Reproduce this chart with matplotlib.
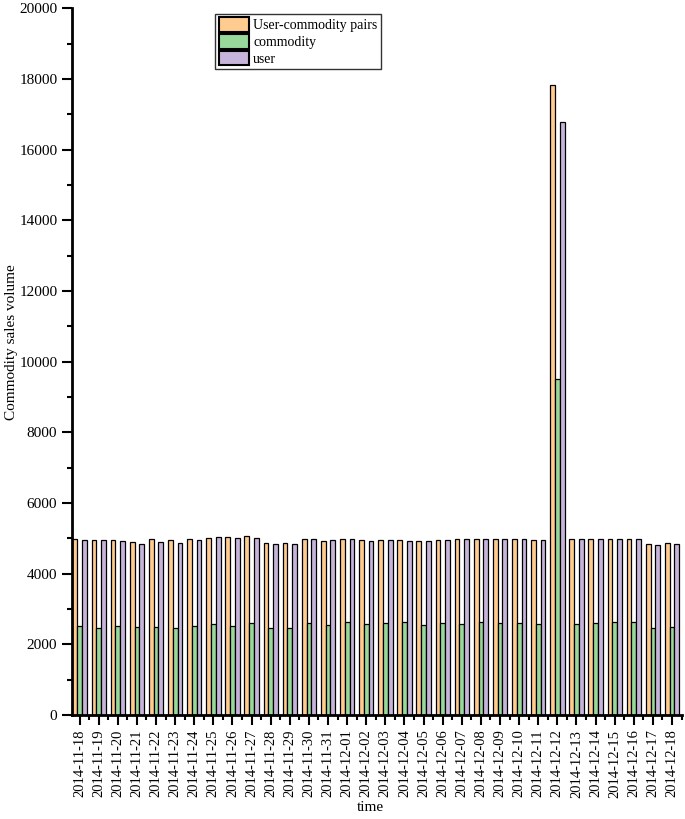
import numpy as np
import matplotlib
matplotlib.use("Agg")
import matplotlib.pyplot as plt
from matplotlib.ticker import MultipleLocator

plt.rcParams['font.family'] = ['Liberation Serif', 'DejaVu Serif']

dates = ["2014-11-18", "2014-11-19", "2014-11-20", "2014-11-21", "2014-11-22",
         "2014-11-23", "2014-11-24", "2014-11-25", "2014-11-26", "2014-11-27",
         "2014-11-28", "2014-11-29", "2014-11-30", "2014-11-31", "2014-12-01",
         "2014-12-02", "2014-12-03", "2014-12-04", "2014-12-05", "2014-12-06",
         "2014-12-07", "2014-12-08", "2014-12-09", "2014-12-10", "2014-12-11",
         "2014-12-12", "2014-12-13", "2014-12-14", "2014-12-15", "2014-12-16",
         "2014-12-17", "2014-12-18"]

pairs = [4980, 4950, 4940, 4900, 4970, 4950, 4980, 5010, 5030, 5060,
         4880, 4880, 4980, 4920, 4980, 4960, 4960, 4950, 4920, 4950,
         4990, 4990, 4970, 4970, 4950, 17830, 4990, 4990, 4990, 4990,
         4830, 4860]

commodity = [2520, 2450, 2520, 2490, 2490, 2470, 2520, 2570, 2520, 2590,
             2450, 2470, 2600, 2550, 2620, 2580, 2600, 2630, 2550, 2600,
             2570, 2630, 2600, 2590, 2570, 9500, 2580, 2600, 2630, 2620,
             2450, 2490]

user = [4950, 4940, 4920, 4840, 4900, 4870, 4950, 5030, 5010, 5000,
        4840, 4840, 4970, 4940, 4970, 4910, 4960, 4920, 4920, 4960,
        4990, 4970, 4970, 4970, 4950, 16770, 4990, 4990, 4990, 4970,
        4800, 4840]

c_pairs = "#FFCB8E"
c_comm = "#98D89A"
c_user = "#C6B4DA"

fig = plt.figure(figsize=(6.85, 8.19), dpi=100)
ax = fig.add_axes([0.105, 0.127, 0.89, 0.863])

x = np.arange(len(dates))
w = 0.25
ax.bar(x - w, pairs, w, color=c_pairs, edgecolor="black", linewidth=0.9, label="User-commodity pairs")
ax.bar(x, commodity, w, color=c_comm, edgecolor="black", linewidth=0.9, label="commodity")
ax.bar(x + w, user, w, color=c_user, edgecolor="black", linewidth=0.9, label="user")

ax.set_xlim(-0.4, len(dates) - 0.5)
ax.set_ylim(0, 20000)

ax.set_xticks(x)
ax.set_xticklabels(dates, rotation=90, fontsize=10.5)
ax.xaxis.set_minor_locator(MultipleLocator(0.5))
ax.yaxis.set_major_locator(MultipleLocator(2000))
ax.yaxis.set_minor_locator(MultipleLocator(1000))
ax.tick_params(axis="y", labelsize=11)

ax.tick_params(which="major", direction="out", length=7, width=1.5)
ax.tick_params(which="minor", direction="out", length=3.5, width=1.5)

for s in ["top", "right"]:
    ax.spines[s].set_visible(False)
for s in ["left", "bottom"]:
    ax.spines[s].set_linewidth(2.0)

ax.set_xlabel("time", fontsize=11)
ax.xaxis.set_label_coords(0.49, -0.122)
ax.set_ylabel("Commodity sales volume", fontsize=11)
ax.yaxis.set_label_coords(-0.088, 0.528)

leg = ax.legend(loc="upper left", bbox_to_anchor=(0.314, 0.982, 0.2, 0.001),
                bbox_transform=fig.transFigure, fontsize=10, frameon=True,
                fancybox=False, borderpad=0.25, handlelength=2.2, handleheight=1.25,
                handletextpad=0.3, labelspacing=0.12, borderaxespad=0)
leg.get_frame().set_edgecolor("black")
leg.get_frame().set_linewidth(1.0)
for p in leg.get_patches():
    p.set_linewidth(1.5)

fig.savefig("out.png", dpi=100)
